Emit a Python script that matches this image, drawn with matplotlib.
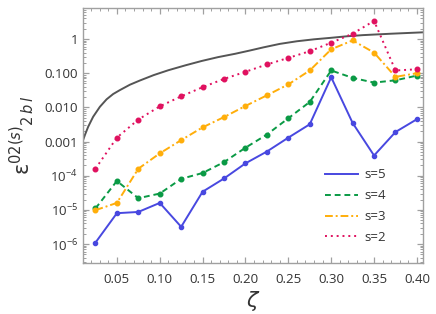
import matplotlib
matplotlib.use("Agg")
import matplotlib.pyplot as plt
from matplotlib.ticker import FixedLocator, FixedFormatter, MultipleLocator, NullFormatter, LogLocator
import numpy as np

plt.rcParams['font.family'] = ['Open Sans', 'DejaVu Sans']

zeta = [0.025, 0.05, 0.075, 0.10, 0.125, 0.15, 0.175, 0.20, 0.225, 0.25,
        0.275, 0.30, 0.325, 0.35, 0.375, 0.40]

s5 = [1.1e-6, 8e-6, 8.7e-6, 1.6e-5, 3.2e-6, 3.4e-5, 8.3e-5, 2.3e-4, 5.1e-4, 1.3e-3,
      3.2e-3, 0.076, 3.5e-3, 3.9e-4, 1.9e-3, 4.5e-3]
s4 = [1.1e-5, 7e-5, 2.2e-5, 3e-5, 8.1e-5, 1.2e-4, 2.5e-4, 6.6e-4, 1.6e-3, 4.8e-3,
      0.0144, 0.12, 0.073, 0.053, 0.062, 0.085]
s3 = [9.8e-6, 1.6e-5, 1.6e-4, 4.5e-4, 1.1e-3, 2.6e-3, 5.2e-3, 0.011, 0.0225, 0.047,
      0.12, 0.5, 0.91, 0.4, 0.078, 0.1]
s2 = [1.6e-4, 1.3e-3, 4.4e-3, 0.0107, 0.021, 0.039, 0.068, 0.11, 0.18, 0.28,
      0.44, 0.78, 1.43, 3.4, 0.12, 0.13]

curve_zeta = [0.0103, 0.0127, 0.0165, 0.0223, 0.0302, 0.038, 0.0457, 0.0535,
              0.0652, 0.0768, 0.093, 0.110, 0.130, 0.149, 0.168, 0.188, 0.205,
              0.221, 0.240, 0.260, 0.280, 0.299, 0.318, 0.337, 0.37, 0.407]
curve_val = [1.05e-3, 1.55e-3, 2.7e-3, 5.3e-3, 0.0104, 0.0172, 0.0246, 0.032,
             0.046, 0.061, 0.088, 0.122, 0.170, 0.228, 0.295, 0.37, 0.46,
             0.57, 0.72, 0.86, 0.98, 1.08, 1.20, 1.30, 1.43, 1.57]

ytick_vals = [1e-6, 1e-5, 1e-4, 1e-3, 1e-2, 1e-1, 1]
ytick_labels = [r'$\mathregular{10^{-6}}$', r'$\mathregular{10^{-5}}$', r'$\mathregular{10^{-4}}$',
                '0.001', '0.010', '0.100', '1']
xtick_vals = [0.05, 0.10, 0.15, 0.20, 0.25, 0.30, 0.35, 0.40]
xtick_labels = ['0.05', '0.10', '0.15', '0.20', '0.25', '0.30', '0.35', '0.40']

fig = plt.figure(figsize=(4.36, 3.14), dpi=100)
ax = fig.add_axes([0.190, 0.1624, 0.780, 0.8121])

ax.plot(curve_zeta, curve_val, color='#555555', lw=1.4, zorder=2,
        solid_joinstyle='round', solid_capstyle='round')

c5, c4, c3, c2 = '#4848e0', '#0a9a45', '#ffae0a', '#e0115f'
ax.plot(zeta, s5, color=c5, lw=1.4, ls='-', marker='o', ms=3, label='s=5', zorder=3)
ax.plot(zeta, s4, color=c4, lw=1.4, ls=(0, (3, 2)), marker='o', ms=3.3, label='s=4', zorder=3)
ax.plot(zeta, s3, color=c3, lw=1.4, ls=(0, (4, 1.5, 1, 1.5)), marker='o', ms=3.3, label='s=3', zorder=3)
ax.plot(zeta, s2, color=c2, lw=1.4, ls=(0, (1, 2)), marker='o', ms=3.3, label='s=2', zorder=3)

ax.set_yscale('log')
ax.set_xlim(0.0103, 0.407)
ax.set_ylim(2.79e-7, 8.08)

ax.yaxis.set_major_locator(FixedLocator(ytick_vals))
ax.yaxis.set_major_formatter(FixedFormatter(ytick_labels))
ax.yaxis.set_minor_locator(LogLocator(base=10, subs=np.arange(2, 10), numticks=20))
ax.yaxis.set_minor_formatter(NullFormatter())
ax.xaxis.set_major_locator(FixedLocator(xtick_vals))
ax.xaxis.set_major_formatter(FixedFormatter(xtick_labels))
ax.xaxis.set_minor_locator(MultipleLocator(0.01))

for sp in ax.spines.values():
    sp.set_color('#a0a0a0')
    sp.set_linewidth(1.0)
ax.tick_params(which='both', direction='in', top=True, right=True, color='#a0a0a0',
               labelcolor='#333333', labelsize=9.5)
ax.tick_params(which='major', length=4.5, width=0.9)
ax.tick_params(which='minor', length=2.5, width=0.7)
ax.tick_params(axis='x', pad=7)

ax.set_xlabel(r'$\zeta$', fontsize=15, color='#333333', labelpad=2)
ax.set_ylabel(r'$\mathrm{\epsilon}^{02(s)}{}_{2\,b\,l}$', fontsize=15, color='#333333', labelpad=6)

leg = ax.legend(loc='upper left', bbox_to_anchor=(0.697, 0.392), borderaxespad=0,
                frameon=False, fontsize=9.5, handlelength=2.5, labelspacing=0.6,
                handletextpad=0.5)
for h in leg.legend_handles:
    h.set_marker('')
for t in leg.get_texts():
    t.set_color('#333333')

fig.savefig('out.png', dpi=100)
